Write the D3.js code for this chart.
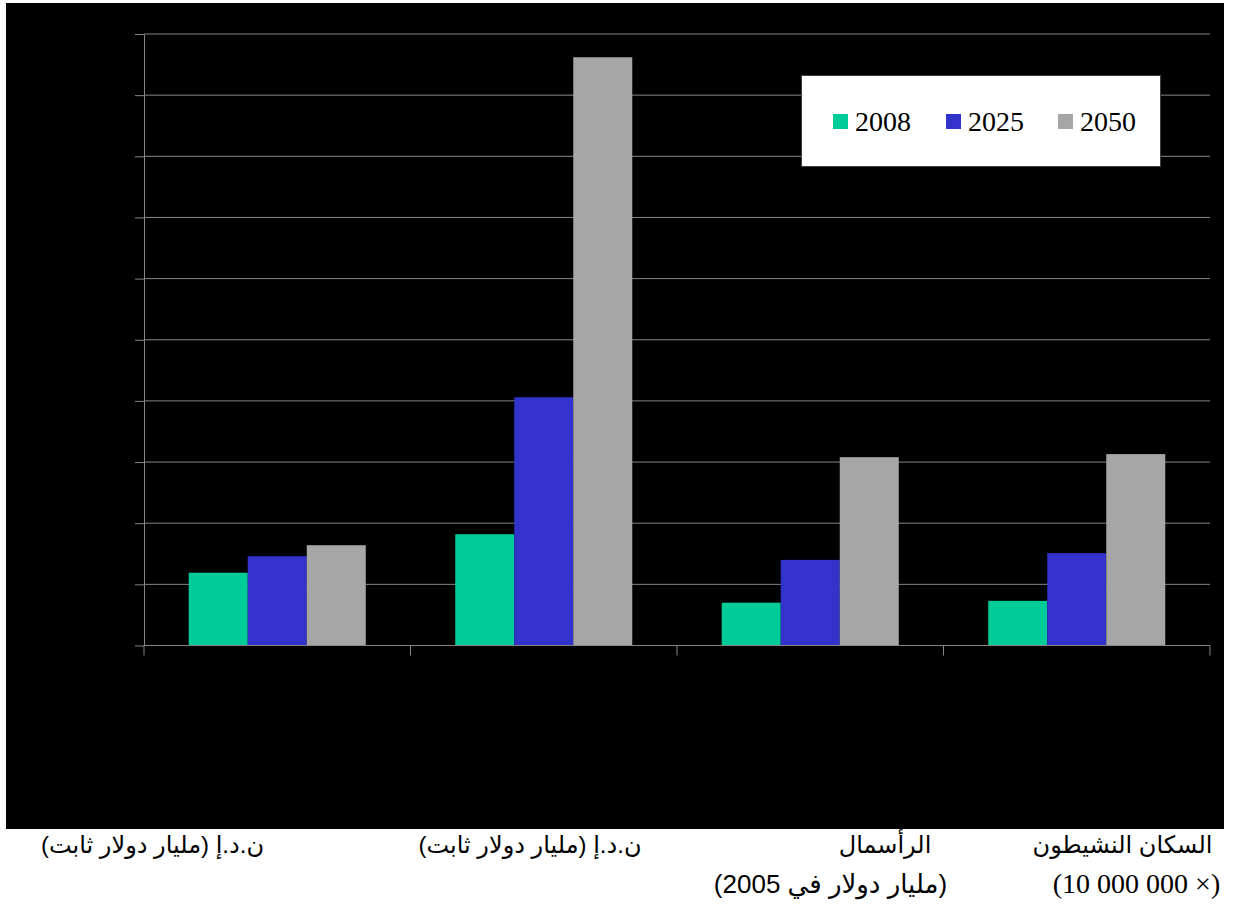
<!DOCTYPE html>
<html>
<head>
<meta charset="utf-8">
<script src="https://cdn.jsdelivr.net/npm/d3@7"></script>
<style>
  html, body { margin: 0; padding: 0; background: #ffffff; }
  svg { display: block; }
  .serif { font-family: 'Liberation Serif', 'Times New Roman', 'DejaVu Serif', serif; }
  .sans { font-family: 'Liberation Sans', Arial, 'DejaVu Sans', sans-serif; }
</style>
</head>
<body>
<svg id="chart" width="1237" height="909"></svg>
<script>
// ---- data ----
const categories = ["gdp1", "gdp2", "capital", "active"];
const seriesNames = ["2008", "2025", "2050"];
const values2008 = [1.19, 1.82, 0.70, 0.73];
const values2025 = [1.46, 4.06, 1.40, 1.51];
const values2050 = [1.64, 9.62, 3.08, 3.13];
const yTicks = [0, 1, 2, 3, 4, 5, 6, 7, 8, 9, 10];
// category label lines (line1, line2)
const labelLine1 = ["ن.د.إ (مليار دولار ثابت)", "ن.د.إ (مليار دولار ثابت)", "الرأسمال", "السكان النشيطون"];
const labelLine2 = ["", "", "(مليار دولار في 2005)", "(10 000 000 ×)"];

const colors = ["#00CC99", "#3333CC", "#A6A6A6"];
const seriesValues = [values2008, values2025, values2050];

(function () {
const svg = d3.select("#chart");

// black panel
svg.append("rect").attr("x", 6).attr("y", 3).attr("width", 1218).attr("height", 826).attr("fill", "#000");

const pLeft = 144, pRight = 1210, pTop = 34, pBottom = 645.5;

const x0 = d3.scaleBand().domain(categories).range([pLeft, pRight]).padding(0);
const x1 = d3.scaleBand().domain(seriesNames).range([0, x0.bandwidth()]).paddingInner(0).paddingOuter(0.758);
const y = d3.scaleLinear().domain([0, 10]).range([pBottom, pTop]);

// gridlines
svg.append("g").selectAll("line").data(yTicks.slice(1)).join("line")
  .attr("x1", pLeft).attr("x2", pRight)
  .attr("y1", d => y(d)).attr("y2", d => y(d))
  .attr("stroke", "#868686").attr("stroke-width", 1);

// y axis
const yAxis = svg.append("g").attr("transform", `translate(${pLeft},0)`)
  .call(d3.axisLeft(y).tickValues(yTicks).tickSize(9).tickSizeOuter(0).tickFormat(""));
yAxis.selectAll("path,line").attr("stroke", "#868686");

// bars
const rows = categories.map((c, i) => ({ cat: c, vals: seriesNames.map((s, j) => ({ s, j, v: seriesValues[j][i] })) }));
const groups = svg.append("g").selectAll("g").data(rows).join("g")
  .attr("transform", d => `translate(${x0(d.cat)},0)`);
groups.selectAll("rect").data(d => d.vals).join("rect")
  .attr("x", d => x1(d.s))
  .attr("width", x1.bandwidth())
  .attr("y", d => y(d.v))
  .attr("height", d => y(0) - y(d.v))
  .attr("fill", d => colors[d.j]);

// x axis
const xAxisScale = d3.scaleLinear().domain([0, categories.length]).range([pLeft, pRight]);
const xg = svg.append("g").attr("transform", `translate(0,${pBottom})`);
xg.append("line").attr("x1", pLeft).attr("x2", pRight).attr("y1", 0).attr("y2", 0).attr("stroke", "#868686");
xg.selectAll("line.tk").data(d3.range(categories.length + 1)).join("line").attr("class", "tk")
  .attr("x1", d => xAxisScale(d)).attr("x2", d => xAxisScale(d))
  .attr("y1", 0).attr("y2", 10).attr("stroke", "#868686");

// legend
const lg = svg.append("g");
lg.append("rect").attr("x", 801.5).attr("y", 75.5).attr("width", 359).attr("height", 91)
  .attr("fill", "#fff").attr("stroke", "#404040").attr("stroke-width", 1);
const legendX = [833, 946, 1058];
seriesNames.forEach((s, i) => {
  lg.append("rect").attr("x", legendX[i]).attr("y", 114).attr("width", 15).attr("height", 15).attr("fill", colors[i]);
  lg.append("text").attr("class", "serif").attr("x", legendX[i] + 22).attr("y", 131)
    .attr("font-size", 28).attr("fill", "#000").text(s);
});

// category labels (below chart)
const line1Center = [152.5, 530, 885, 1122.5];
const line2Center = [0, 0, 830.5, 1136.5];
const lab = svg.append("g");
labelLine1.forEach((t, i) => {
  lab.append("text").attr("class", "sans").attr("x", line1Center[i]).attr("y", 853)
    .attr("text-anchor", "middle").attr("direction", "rtl")
    .attr("font-size", 24).attr("fill", "#000").text(t);
});
labelLine2.forEach((t, i) => {
  if (!t) return;
  const isNum = i === 3;
  lab.append("text").attr("class", isNum ? "serif" : "sans").attr("x", line2Center[i]).attr("y", 893)
    .attr("text-anchor", "middle").attr("direction", isNum ? "ltr" : "rtl")
    .attr("font-size", isNum ? 28 : 26).attr("fill", "#000").text(t);
});
})();
</script>
</body>
</html>
